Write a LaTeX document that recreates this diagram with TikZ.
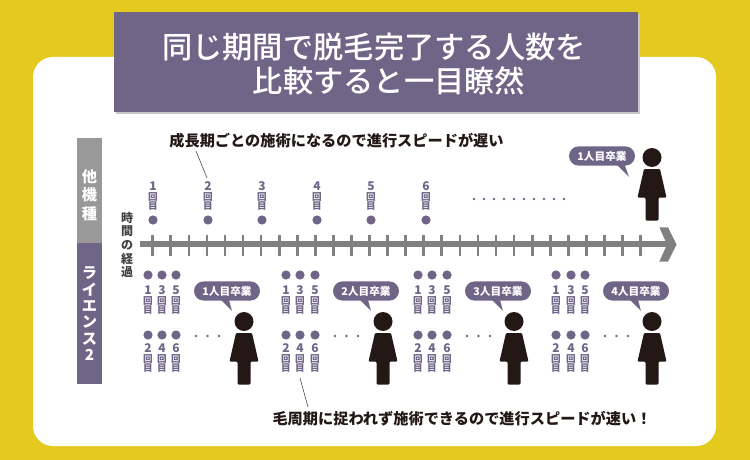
\documentclass[tikz,border=0pt]{standalone}
\usepackage{fontspec}
\setmainfont{Noto Sans CJK JP}
\newfontfamily\ttlf{Noto Sans CJK JP Medium}
\usetikzlibrary{calc}
\definecolor{bgy}{HTML}{E4CA1F}
\definecolor{pur}{HTML}{6F6587}
\definecolor{gry}{HTML}{999999}
\definecolor{axc}{HTML}{808080}
\definecolor{ink}{HTML}{231815}
\tikzset{
  x=0.75pt,y=-0.75pt,
  cnt/.style={inner sep=0pt,outer sep=0pt,anchor=center},
  num/.style={cnt,text=pur,font=\fontsize{9pt}{9pt}\bfseries},
  kai/.style={cnt,text=pur,font=\fontsize{7.2pt}{7.2pt}\bfseries},
  dotn/.style={circle,fill=pur,inner sep=0pt,minimum size=6.9pt,outer sep=0pt},
  edot/.style={circle,fill=pur,inner sep=0pt,minimum size=1.9pt,outer sep=0pt},
  bubble/.style={cnt,fill=pur,rounded corners=7.2pt,minimum width=49.5pt,minimum height=14.4pt,text=white,font=\fontsize{8pt}{8pt}\bfseries},
  side/.style={cnt,text=white,font=\fontsize{11.4pt}{11.4pt}\bfseries},
  note/.style={cnt,text=ink,font=\fontsize{11.4pt}{11.4pt}\bfseries},
  ttl/.style={cnt,text=white,font=\fontsize{22.7pt}{22.7pt}\ttlf},
  keiji/.style={cnt,text=black!75,font=\fontsize{9pt}{9pt}\bfseries},
  lead/.style={draw=black!70,line width=0.45pt},
}
\newcommand{\kaisuu}[4]{% name, x, y of number, n
  \node[num] (#1n) at (#2,#3) {#4};
  \node[kai] (#1k) at (#2,#3+10.5) {回};
  \node[kai] (#1m) at (#2,#3+20) {目};
}
\newcommand{\person}[3]{% name, x, top of head
  \fill[ink] (#2,#3+9.5) circle[radius=9.5];
  \fill[ink,rounded corners=0.8pt] (#2-8,#3+21) -- (#2+8,#3+21) -- (#2+14.5,#3+49.5) -- (#2+6.5,#3+49.5) -- (#2+6.5,#3+72.5) -- (#2-6.5,#3+72.5) -- (#2-6.5,#3+49.5) -- (#2-14.5,#3+49.5) -- cycle;
  \coordinate (#1) at (#2,#3);
}
\newcommand{\sayb}[5]{% left x, right x, top y, tip x, tip y
  \fill[pur] (#1,#3) -- (#4,#5) -- (#2,#3) -- cycle;
}
\begin{document}
\begin{tikzpicture}
\useasboundingbox (0,0) rectangle (750,460);
\fill[bgy] (0,0) rectangle (750,460);
\fill[white,rounded corners=15pt] (33,57) rectangle (716,446);
\fill[black!22] (116,14) rectangle (640,114);
\fill[pur] (114,12) rectangle (638,112);
\node[ttl] (t1) at (374,47) {同じ期間で脱毛完了する人数を};
\node[ttl] (t2) at (389,81) {比較すると一目瞭然};
% side bars
\fill[gry] (77,138) rectangle (102,243);
\fill[pur] (77,243) rectangle (102,384);
\foreach \c/\y in {他/177,機/195,種/214} \node[side] at (89.5,\y) {\c};
\foreach \c/\y in {ラ/273,イ/290,エ/306,ン/322,ス/339,2/355} \node[side] at (89.5,\y) {\c};
% axis label
\foreach \c/\y in {時/218,間/231.5,の/245,経/258.5,過/272} \node[keiji] at (127,\y) {\c};
% axis
\foreach \i in {0,...,27} \draw[axc,line width=2pt] ({152.7+18.07*\i},235) -- ({152.7+18.07*\i},256);
\coordinate (axs) at (140,244.3);
\coordinate (axe) at (668,244.3);
\draw[axc,line width=4.4pt] (axs) -- (axe);
\fill[axc] (659.3,227.3) -- (668,227.3) -- (676.5,244.5) -- (668,261.7) -- (659.3,261.7) -- (667,244.5) -- cycle;
% top row
\foreach \i/\x in {1/153,2/208,3/262,4/317,5/371,6/426}{
  \kaisuu{a\i}{\x}{186}{\i}
  \node[dotn] (ad\i) at (\x,220) {};
}
\foreach \i in {0,...,9} \node[edot] at ({474+10*\i},199) {};
\node[note] (n1) at (336.5,141) {成長期ごとの施術になるので進行スピードが遅い};
\coordinate (l1a) at (196,151);
\coordinate (l1b) at (207,178);
\draw[lead] (l1a) -- (l1b);
% person top
\person{p0}{652}{148}
\sayb{612}{623}{160}{629}{177}
\node[bubble] (b0) at (602,156) {1人目卒業};
% bottom groups
\foreach \g/\xa/\xb/\xc/\ex/\px/\bx/\lab in {1/148/162/176/196/244/227/1,2/286/300/315/335/383/366/2,3/418/432/447/467/514/498/3,4/556/571/585/605/652/636/4}{
  \node[dotn] (c\g a) at (\xa,275) {};
  \node[dotn] (c\g b) at (\xb,275) {};
  \node[dotn] (c\g c) at (\xc,275) {};
  \kaisuu{d\g a}{\xa}{290}{1}
  \kaisuu{d\g b}{\xb}{290}{3}
  \kaisuu{d\g c}{\xc}{290}{5}
  \node[dotn] (e\g a) at (\xa,335) {};
  \node[dotn] (e\g b) at (\xb,335) {};
  \node[dotn] (e\g c) at (\xc,335) {};
  \kaisuu{f\g a}{\xa}{348}{2}
  \kaisuu{f\g b}{\xb}{348}{4}
  \kaisuu{f\g c}{\xc}{348}{6}
  \foreach \k in {0,1,2} \node[edot] at ({\ex+11.5*\k},336) {};
  \person{p\g}{\px}{312}
  \sayb{\bx-10}{\bx+1}{296}{\bx+5}{311}
  \node[bubble] (b\g) at (\bx,291) {\lab 人目卒業};
}
\node[note] (n2) at (462,419) {毛周期に捉われず施術できるので進行スピードが速い！};
\coordinate (l2a) at (300,378);
\coordinate (l2b) at (308,407);
\draw[lead] (l2a) -- (l2b);
\end{tikzpicture}
\end{document}
